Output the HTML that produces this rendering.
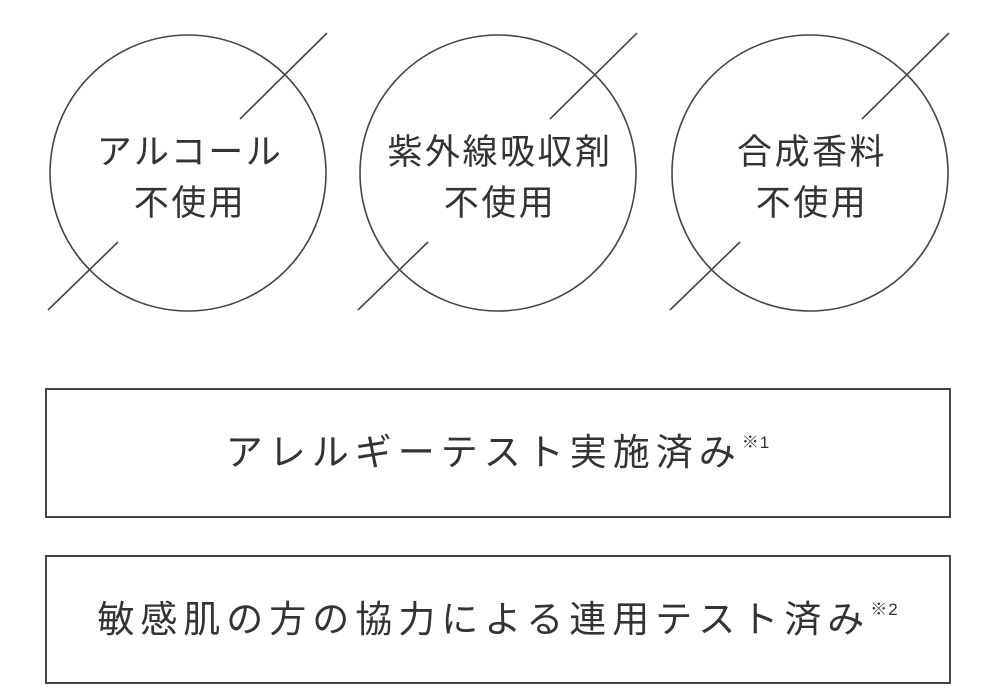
<!DOCTYPE html>
<html><head><meta charset="utf-8"><style>
html,body{margin:0;padding:0;background:#fff;}
body{width:1000px;height:697px;position:relative;overflow:hidden;font-family:"Liberation Sans","Noto Sans CJK JP",sans-serif;color:#333;}
svg{position:absolute;left:0;top:0;}
.ct{position:absolute;width:276px;text-align:center;font-size:35px;letter-spacing:2.5px;line-height:51px;top:127px;}
.box{position:absolute;left:45px;width:906px;border:2px solid #444;box-sizing:border-box;text-align:center;font-size:37px;letter-spacing:6px;}
sup{font-size:17px;letter-spacing:1px;vertical-align:top;position:relative;top:-10px;}
</style></head><body>
<svg width="1000" height="697">
<g fill="none" stroke="#444" stroke-width="1.6">
<circle cx="188" cy="173" r="138"/>
<circle cx="498" cy="173" r="138"/>
<circle cx="810" cy="173" r="138"/>
<line x1="327" y1="33" x2="240" y2="119"/><line x1="118" y1="242" x2="48" y2="310"/>
<line x1="637" y1="33" x2="550" y2="119"/><line x1="428" y1="242" x2="358" y2="310"/>
<line x1="949" y1="33" x2="862" y2="119"/><line x1="740" y1="242" x2="670" y2="310"/>
</g></svg>
<div class="ct" style="left:52px">アルコール<br>不使用</div>
<div class="ct" style="left:362px">紫外線吸収剤<br>不使用</div>
<div class="ct" style="left:674px">合成香料<br>不使用</div>
<div class="box" style="top:388px;height:130px;line-height:126px;">アレルギーテスト実施済み<sup>※1</sup></div>
<div class="box" style="top:555px;height:129px;line-height:125px;">敏感肌の方の協力による連用テスト済み<sup>※2</sup></div>
</body></html>
